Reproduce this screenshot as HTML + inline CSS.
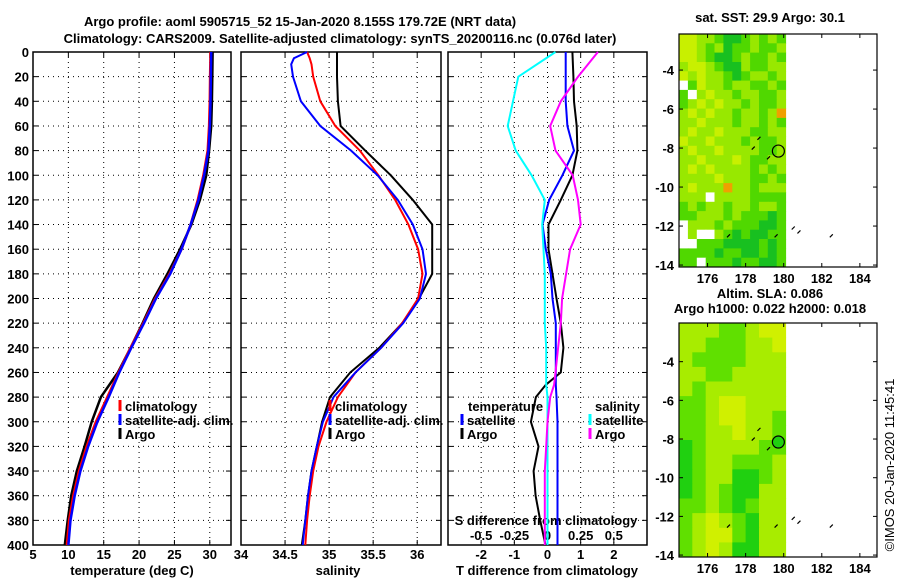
<!DOCTYPE html>
<html><head><meta charset="utf-8"><style>
body{margin:0;background:#fff;}
svg{display:block;font-family:"Liberation Sans",sans-serif;font-weight:bold;}
text{font-size:13px;}
</style></head><body>
<svg id="c" width="900" height="580" xmlns="http://www.w3.org/2000/svg"></svg>
<script>
// ---- data ----
const depths = [0,20,40,60,80,100,120,140,160,180,200,220,240,260,280,300,320,340,360,380,400];
const tempClim = [30.1,30.05,30,29.9,29.7,29.1,28.3,27.3,26,24.3,22.3,20.6,18.8,17.1,15.5,13.9,12.6,11.5,10.7,10.1,9.8];
const tempSat  = [30.2,30.15,30.1,30,29.8,29.2,28.4,27.3,26,24.4,22.4,20.7,18.9,17.2,15.7,14.1,12.8,11.7,10.9,10.3,10.0];
const tempArgo = [30.4,30.35,30.3,30.2,29.9,29.5,28.6,27.4,25.8,24.0,22.1,20.5,18.8,17.0,14.6,13.3,12.3,11.2,10.4,9.9,9.5];
const salDepths = [0,5,10,20,40,60,80,100,120,140,160,180,200,220,240,260,280,300,320,340,360,380,400];
const salClim = [34.75,34.78,34.8,34.82,34.9,35.07,35.35,35.56,35.75,35.9,36.01,36.06,36.01,35.83,35.59,35.3,35.1,34.97,34.88,34.82,34.78,34.75,34.73];
const salSat  = [34.75,34.6,34.57,34.59,34.68,34.9,35.25,35.55,35.78,35.95,36.06,36.1,36.03,35.84,35.59,35.3,35.05,34.93,34.86,34.8,34.76,34.73,34.7];
const salArgo = [35.09,35.09,35.09,35.09,35.1,35.13,35.41,35.7,35.95,36.17,36.17,36.17,36.02,35.83,35.57,35.24,35.01,34.92,34.86,34.8,34.76,34.73,34.69];
const diffDepths = [0,20,40,60,80,100,120,140,160,180,200,220,240,260,270,280,300,320,340,360,380,400];
const tDiffSat  = [0.55,0.55,0.55,0.6,0.8,0.45,0.05,-0.15,-0.05,0.1,0.15,0.25,0.25,0.25,0.25,0.27,0.3,0.3,0.3,0.3,0.3,0.3];
const tDiffArgo = [0.75,0.78,0.8,0.88,0.9,0.75,0.4,0.03,0.03,0.15,0.27,0.4,0.48,0.4,-0.05,-0.35,-0.5,-0.27,-0.42,-0.36,-0.22,-0.06];
const sDiffSat  = [0.06,-0.22,-0.26,-0.3,-0.24,-0.12,-0.02,-0.04,-0.03,-0.02,-0.02,-0.02,-0.01,-0.01,-0.01,0,0,0,0,0,0,0];
const sDiffArgo = [0.38,0.23,0.1,0.02,0.06,0.19,0.23,0.25,0.17,0.14,0.11,0.1,0.08,0.06,0.05,0.02,0,-0.01,-0.02,-0.02,-0.02,-0.02];
const depthTicks = [0,20,40,60,80,100,120,140,160,180,200,220,240,260,280,300,320,340,360,380,400];
const tempTicks = [5,10,15,20,25,30];
const salTicks = [34,34.5,35,35.5,36];
const tDiffTicks = [-2,-1,0,1,2];
const sDiffTicks = [-0.5,-0.25,0,0.25,0.5];
const sDiffTickLabels = ["-0.5","-0.25","0","0.25","0.5"];
const lonTicks = [176,178,180,182,184];
const latTicks = [-4,-6,-8,-10,-12,-14];
// SST grid (lon 174.5..180.1, lat -2.2..-14), codes: Y yellow, L lime, G green, D dark green, O orange, W white
const sstGrid = [
"YYLLGDDGLGLG","YYLGLDGGLGGL","YYLGDDGLGGLG","LYYLGDDLGGLL","YLYLLGDGLLGL","WGYLLGLLGGLG","GWLYLLGLLGGL","GLYLYLLGLGGL","LYLYLLGLLGLO","LLYLLLGLLGLG",
"LYLLYLLLGGLL","YLLYLLLGLGGL","LYLLYLLLLGGL","LLYLLLYLGGLL","LYLYLLLLGLGL","LLLLYLLLGGLG","LYLLLOLLGLLL","LLLWLLLLGGGG","GLGLLGLLGLLG","GGLLLGLGGGDG",
"WLLLGLGGGDDG","WLWWLGDGDDGG","WWGGGDDDDGDG","GGGGDGGDDGDG","GGWGGGDGGDDG"];
// SLA grid (lon 174.5..180.1, lat -2..-14)
const slaGrid = [
"LLLGGLYY","LLGGGLLY","LGGGGLLL","LLGGLLLL","LGLLLLLL","GGLYYLLL","GGLYYLLG","GGLLYLLG","DGLLLLGG","DGLLGGGL",
"DGLLDDGL","DGLGDDLL","GGLGDGLL","GLYLGDLL","GLYYGDLL","GLYLDDLL"];
const argoLon = 179.72, argoLat = -8.155;

// ---- helpers ----
const svg = document.getElementById('c');
const NS = 'http://www.w3.org/2000/svg';
function el(tag, attrs, parent){const e=document.createElementNS(NS,tag);for(const k in attrs)e.setAttribute(k,attrs[k]);(parent||svg).appendChild(e);return e;}
function txt(x,y,s,anchor,size,parent){const t=el('text',{x:x,y:y,'text-anchor':anchor||'middle','font-size':size||13},parent);t.textContent=s;return t;}
const TOP=52, BOT=545;
const yD = d => TOP + d/400*(BOT-TOP);
function lin(d0,d1,r0,r1){return v=>r0+(v-d0)/(d1-d0)*(r1-r0);}

function panel(name,L,R,xs,ticks,labels,leftLabels){
  const g=el('g',{});
  
  
  ticks.forEach(t=>{const x=xs(t);el('line',{x1:x,x2:x,y1:TOP,y2:BOT,stroke:'#000','stroke-dasharray':'1,4','stroke-width':1},g);
    el('line',{x1:x,x2:x,y1:BOT,y2:BOT-5,stroke:'#000'},g);el('line',{x1:x,x2:x,y1:TOP,y2:TOP+5,stroke:'#000'},g);});
  depthTicks.forEach(d=>{const y=yD(d);el('line',{x1:L,x2:R,y1:y,y2:y,stroke:'#000','stroke-dasharray':'1,4'},g);
    el('line',{x1:L,x2:L+5,y1:y,y2:y,stroke:'#000'},g);el('line',{x1:R,x2:R-5,y1:y,y2:y,stroke:'#000'},g);
    if(leftLabels){const t=txt(L-4,y+5,String(d),'end',13,g);}});
  el('rect',{x:L,y:TOP,width:R-L,height:BOT-TOP,fill:'none',stroke:'#000','stroke-width':1.5},g);
  return g;
}
function line(g,name,xsF,xvals,dvals,color,w){
  const p=dvals.map((d,i)=>xsF(xvals[i]).toFixed(1)+','+yD(d).toFixed(1)).join(' ');
  const e=el('polyline',{points:p,fill:'none',stroke:color,'stroke-width':w||2},g);
  
  
}
function legend(g,x,y,color,label){
  el('line',{x1:x,x2:x,y1:y-11,y2:y,stroke:color,'stroke-width':3},g);
  const t=txt(x+5,y,label,'start',12,g);
  
  
}

// titles
let t=txt(300,26,'Argo profile: aoml 5905715_52 15-Jan-2020 8.155S 179.72E (NRT data)','middle',14);

t=txt(340,43,'Climatology: CARS2009. Satellite-adjusted climatology: synTS_20200116.nc (0.076d later)','middle',14);


// panel 1 temperature
const xT=lin(5,33,33,231);
let g1=panel('temperature-panel',33,231,xT,tempTicks,null,true);
tempTicks.forEach(v=>{txt(xT(v),559,String(v),'middle',13,g1);});
t=txt(132,575,'temperature (deg C)','middle',13,g1);
line(g1,'temp-argo-line',xT,tempArgo,depths,'#000',2.5);
line(g1,'temp-climatology-line',xT,tempClim,depths,'#f00',2.5);
line(g1,'temp-satellite-line',xT,tempSat,depths,'#00f',2.5);
legend(g1,120,411,'#f00','climatology');legend(g1,120,425,'#00f','satellite-adj. clim.');legend(g1,120,439,'#000','Argo');

// panel 2 salinity
const xS=lin(34,36.27,241,441);
let g2=panel('salinity-panel',241,441,xS,salTicks,null,false);
salTicks.forEach(v=>{txt(xS(v),559,String(v),'middle',13,g2);});
t=txt(338,575,'salinity','middle',13,g2);
line(g2,'sal-argo-line',xS,salArgo,salDepths,'#000',2);
line(g2,'sal-climatology-line',xS,salClim,salDepths,'#f00',2);
line(g2,'sal-satellite-line',xS,salSat,salDepths,'#00f',2);
legend(g2,330,411,'#f00','climatology');legend(g2,330,425,'#00f','satellite-adj. clim.');legend(g2,330,439,'#000','Argo');

// panel 3 differences
const xDT=lin(-3,3,448,647), xDS=lin(-0.75,0.75,448,647);
let g3=panel('difference-panel',448,647,xDT,tDiffTicks,null,false);
tDiffTicks.forEach(v=>{txt(xDT(v),559,String(v),'middle',13,g3);});
sDiffTicks.forEach((v,i)=>{txt(xDS(v),540,sDiffTickLabels[i],'middle',12,g3);});
txt(546,525,'S difference from climatology','middle',12,g3);
t=txt(547,575,'T difference from climatology','middle',13,g3);
line(g3,'tdiff-argo-line',xDT,tDiffArgo,diffDepths,'#000',2);
line(g3,'tdiff-satellite-line',xDT,tDiffSat,diffDepths,'#00f',2);
line(g3,'sdiff-satellite-line',xDS,sDiffSat,diffDepths,'#0ff',2);
line(g3,'sdiff-argo-line',xDS,sDiffArgo,diffDepths,'#f0f',2);
txt(468,411,'temperature','start',12,g3);
legend(g3,462,425,'#00f','satellite');legend(g3,462,439,'#000','Argo');
txt(595,411,'salinity','start',12,g3);
legend(g3,590,425,'#0ff','satellite');legend(g3,590,439,'#f0f','Argo');

// maps
const colors={Y:'#c8f000',L:'#98e800',G:'#50d800',D:'#18c020',O:'#f0a000',W:'#ffffff'};
const slaColors={Y:'#d0f000',L:'#a8ec00',G:'#60e000',D:'#20d010',W:'#ffffff'};
function map(name,T,B,lat0,lat1,grid,cols,title1,title2){
  const g=el('g',{});
  
  
  const L=679,R=877;
  const xm=lin(174.5,184.9,L,R), ym=lin(lat0,lat1,T,B);
  const nr=grid.length,nc=grid[0].length;
  const lonA=174.5,lonB=180.1;
  for(let r=0;r<nr;r++)for(let c=0;c<nc;c++){
    const x0=xm(lonA+(lonB-lonA)*c/nc),x1=xm(lonA+(lonB-lonA)*(c+1)/nc);
    const y0=ym(lat0+(lat1-lat0)*r/nr),y1=ym(lat0+(lat1-lat0)*(r+1)/nr);
    const cell=el('rect',{x:x0.toFixed(1),y:y0.toFixed(1),width:(x1-x0+0.5).toFixed(1),height:(y1-y0+0.5).toFixed(1),fill:(name==='sla-map'?slaColors:colors)[grid[r][c]]},g);
    
    
  }
  el('rect',{x:L,y:T,width:R-L,height:B-T,fill:'none',stroke:'#000','stroke-width':1.2},g);
  lonTicks.forEach(v=>{const x=xm(v);el('line',{x1:x,x2:x,y1:B,y2:B-4,stroke:'#000'},g);el('line',{x1:x,x2:x,y1:T,y2:T+4,stroke:'#000'},g);txt(x,B+16,String(v),'middle',13,g);});
  latTicks.forEach(v=>{const y=ym(v);el('line',{x1:L,x2:L+4,y1:y,y2:y,stroke:'#000'},g);el('line',{x1:R,x2:R-4,y1:y,y2:y,stroke:'#000'},g);txt(L-5,y+5,String(v),'end',13,g);});
  const c=el('circle',{cx:xm(argoLon),cy:ym(argoLat),r:6,fill:name==='sla-map'?'#20d010':'none',stroke:'#000','stroke-width':1.2},g);
  
  
  // small islands
  [[180.5,-12.1],[180.8,-12.3],[182.5,-12.5],[177.1,-12.5],[179.6,-12.5],[179.2,-8.5],[178.4,-8],[178.7,-7.5]].forEach(p=>{el('line',{x1:xm(p[0])-1.5,y1:ym(p[1])+1.5,x2:xm(p[0])+1.5,y2:ym(p[1])-1.5,stroke:'#000','stroke-width':1.2},g);});
  let tt=txt(770,title2?T-25:T-12,title1,'middle',12,g);
  if(title2){tt=txt(770,T-10,title2,'middle',12,g);}
}
map('sst-map',34,267,-2.15,-14.1,sstGrid,12,'sat. SST: 29.9 Argo: 30.1');
map('sla-map',323,557,-2.0,-14.1,slaGrid,8,'Altim. SLA: 0.086','Argo h1000: 0.022 h2000: 0.018');
t=el('text',{x:0,y:0,transform:'translate(894,465) rotate(-90)','text-anchor':'middle','font-size':12,'font-weight':'normal'});
t.textContent='©IMOS 20-Jan-2020 11:45:41';

</script>
</body></html>
